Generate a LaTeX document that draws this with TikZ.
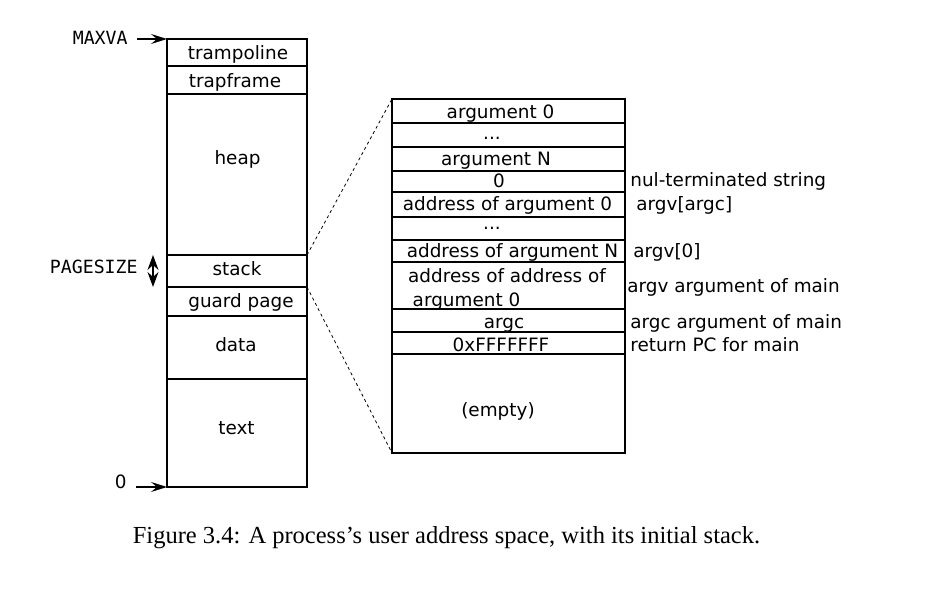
\documentclass[tikz,border=0pt]{standalone}
\usepackage{fontspec}
\usepackage{tikz}
\setmainfont{Liberation Serif}
\setsansfont{DejaVu Sans}
\setmonofont{DejaVu Sans Mono}
\usetikzlibrary{arrows.meta, positioning}

\begin{document}
\begin{tikzpicture}[
  x=0.5pt, y=-0.5pt,
  seg/.style={draw, line width=0.6pt, inner sep=0pt, outer sep=0pt, minimum width=70pt, minimum height=#1*0.5pt},
  slot/.style={seg=#1, minimum width=116.5pt},
  txt/.style={font=\fontsize{9.2pt}{11pt}\sffamily, inner sep=0pt, text height=10pt, text depth=2pt},
  note/.style={txt, anchor=west},
  addr/.style={font=\fontsize{9.1pt}{11pt}\ttfamily, inner sep=0pt, text height=7pt, text depth=2pt, anchor=east},
  ptr/.style={-{Stealth[length=8pt, width=5pt, inset=3pt]}, line width=0.6pt},
  dbl/.style={{Stealth[length=7.5pt, width=5.5pt, inset=2.5pt]}-{Stealth[length=7.5pt, width=5.5pt, inset=2.5pt]}, line width=0.6pt},
  zoomline/.style={line width=0.4pt, dash pattern=on 1.5pt off 1.5pt}
]
\useasboundingbox (0,0) rectangle (925,608);

% address space
\node[seg=27] (tramp) at (237,52.5) {};
\node[seg=28, below=0pt of tramp] (trapf) {};
\node[seg=161, below=0pt of trapf] (heap) {};
\node[seg=32, below=0pt of heap] (stack) {};
\node[seg=29, below=0pt of stack] (guard) {};
\node[seg=63, below=0pt of guard] (data) {};
\node[seg=108, below=0pt of data] (code) {};

\node[txt] (ttramp) at (238,52) {trampoline};
\node[txt] (ttrapf) at (235,80) {trapframe};
\node[txt] (theap) at (237.5,157) {heap};
\node[txt] (tstack) at (237,268) {stack};
\node[txt] (tguard) at (241,300) {guard page};
\node[txt] (tdata) at (236,344) {data};
\node[txt] (tcode) at (236.5,427) {text};

\node[addr] (maxva) at (128,39.5) {MAXVA};
\node[addr] (pagesz) at (138,268.5) {PAGESIZE};
\node[txt, anchor=east] (zero) at (127,480) {0};

\draw[ptr, shorten <=4.5pt] (maxva.east |- tramp.north) -- (tramp.north west);
\draw[ptr, shorten <=4.5pt] (zero.east |- code.south) -- (code.south west);
\coordinate (pz) at ([xshift=7.5pt]pagesz.east);
\draw[dbl] (pz |- stack.north) -- (pz |- stack.south);

% initial stack
\node[slot=24] (arg0) at (508.5,111) {};
\node[slot=24, below=0pt of arg0] (dots1) {};
\node[slot=24, below=0pt of dots1] (argn) {};
\node[slot=21, below=0pt of argn] (nul) {};
\node[slot=25, below=0pt of nul] (addr0) {};
\node[slot=23, below=0pt of addr0] (dots2) {};
\node[slot=22, below=0pt of dots2] (addrn) {};
\node[slot=47, below=0pt of addrn] (argvp) {};
\node[slot=23, below=0pt of argvp] (argc) {};
\node[slot=22, below=0pt of argc] (retpc) {};
\node[slot=99, below=0pt of retpc] (empty) {};

\node[txt] (targ0) at (500.5,111) {argument 0};
\node[txt] (tdots1) at (492,132) {...};
\node[txt] (targn) at (496,158) {argument N};
\node[txt] (tnul) at (499,180) {0};
\node[txt] (taddr0) at (507.5,203) {address of argument 0};
\node[txt] (tdots2) at (492,222) {...};
\node[txt] (taddrn) at (512.5,250) {address of argument N};
\node[txt] (targvp) at (507,275) {address of address of};
\node[txt] (targvq) at (466.5,299) {argument 0};
\node[txt] (targc) at (504,321) {argc};
\node[txt] (tretpc) at (501,344) {0xFFFFFFF};
\node[txt] (tempty) at (498,408) {(empty)};

\node[note] (nstr) at (630,179) {nul-terminated string};
\node[note] (nargvc) at (636,203) {argv[argc]};
\node[note] (nargv0) at (633,250) {argv[0]};
\node[note] (nargv) at (627,285) {argv argument of main};
\node[note] (nargc) at (630,321) {argc argument of main};
\node[note] (npc) at (630,344) {return PC for main};

\draw[zoomline] (stack.north east) -- (arg0.north west);
\draw[zoomline] (stack.south east) -- (empty.south west);

\node[font=\fontsize{12.25pt}{14pt}\rmfamily, anchor=base] (caption) at (446.5,543) {Figure 3.4: A process’s user address space, with its initial stack.};
\end{tikzpicture}
\end{document}
